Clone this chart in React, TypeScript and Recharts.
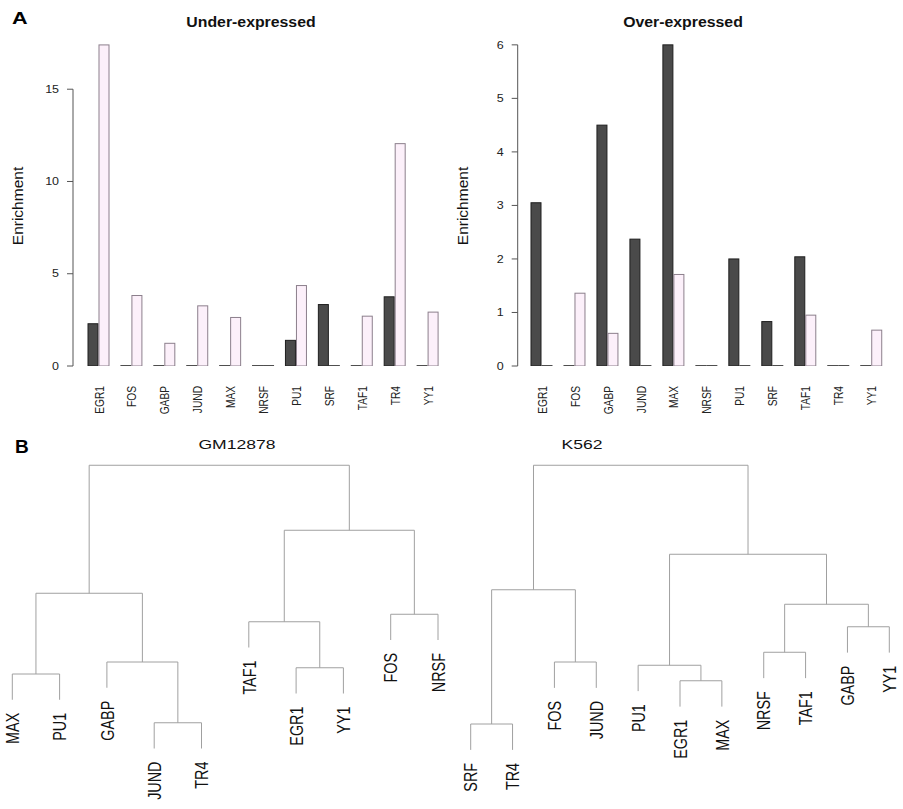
import React from 'react';
import { BarChart, Bar, XAxis, YAxis, ReferenceLine, ScatterChart, Scatter } from 'recharts';

// transcription factors, in barplot order
const factors = ['EGR1', 'FOS', 'GABP', 'JUND', 'MAX', 'NRSF', 'PU1', 'SRF', 'TAF1', 'TR4', 'YY1'];

// panel A, enrichment values
const underDark = [2.29, 0, 0, 0, 0, 0, 1.39, 3.33, 0, 3.75, 0];
const underLight = [17.4, 3.82, 1.23, 3.26, 2.63, 0, 4.36, 0, 2.7, 12.05, 2.92];
const overDark = [3.05, 0, 4.5, 2.37, 6.0, 0, 2.0, 0.83, 2.04, 0, 0];
const overLight = [0, 1.36, 0.61, 0, 1.71, 0, 0, 0, 0.95, 0, 0.67];

const underTicks = [0, 5, 10, 15];
const overTicks = [0, 1, 2, 3, 4, 5, 6];

// panel B, dendrogram leaf order and merges [child, child, height]; '#k' = k-th merge
const gmLeaves = ['MAX', 'PU1', 'GABP', 'JUND', 'TR4', 'TAF1', 'EGR1', 'YY1', 'FOS', 'NRSF'];
const gmMerges: [string, string, number][] = [
  ['JUND', 'TR4', 0.229],
  ['MAX', 'PU1', 0.424],
  ['EGR1', 'YY1', 0.449],
  ['GABP', '#1', 0.472],
  ['TAF1', '#3', 0.633],
  ['FOS', 'NRSF', 0.663],
  ['#2', '#4', 0.747],
  ['#5', '#6', 0.999],
  ['#7', '#8', 1.259],
];

const k562Leaves = ['SRF', 'TR4', 'FOS', 'JUND', 'PU1', 'EGR1', 'MAX', 'NRSF', 'TAF1', 'GABP', 'YY1'];
const k562Merges: [string, string, number][] = [
  ['SRF', 'TR4', 0.224],
  ['EGR1', 'MAX', 0.397],
  ['PU1', '#2', 0.459],
  ['FOS', 'JUND', 0.472],
  ['NRSF', 'TAF1', 0.511],
  ['GABP', 'YY1', 0.613],
  ['#5', '#6', 0.703],
  ['#1', '#4', 0.761],
  ['#3', '#7', 0.903],
  ['#8', '#9', 1.259],
];

const DARK = '#4a4a4a';
const DARK_EDGE = '#1e1e1e';
const LIGHT = '#fcf0fa';
const LIGHT_EDGE = '#8c7f8c';
const TREE = '#a0a0a0';
const FONT = '"Liberation Sans", Arial, Helvetica, sans-serif';

const BarShape = (props: any) => {
  const { x, y, width, height, fill, stroke } = props;
  if (!height || Math.abs(height) < 0.8) {
    return <line x1={x} x2={x + width} y1={y} y2={y} stroke="#222" strokeWidth={1.6} />;
  }
  return <rect x={x + 0.5} y={y} width={width - 1} height={height} fill={fill} stroke={stroke} strokeWidth={1} />;
};

const CatTick = (props: any) => {
  const { x, y, payload } = props;
  return (
    <text
      transform={`translate(${x},${y + 20}) scale(1.25,1) rotate(-90)`}
      textAnchor="end"
      dy="0.36em"
      fontSize={10.2}
      fontFamily={FONT}
      fill="#222"
    >
      {payload.value}
    </text>
  );
};

const NumTick = (props: any) => {
  const { x, y, payload } = props;
  return (
    <text
      transform={`translate(${x},${y}) scale(1.2,1)`}
      textAnchor="end"
      dy="0.36em"
      fontSize={10.4}
      fontFamily={FONT}
      fill="#222"
    >
      {payload.value}
    </text>
  );
};

interface EnrichmentProps {
  dark: number[];
  light: number[];
  ticks: number[];
  max: number;
  width: number;
  left: number;
  right: number;
  padLeft: number;
  padRight: number;
}

const EnrichmentBars = ({ dark, light, ticks, max, width, left, right, padLeft, padRight }: EnrichmentProps) => {
  const rows = factors.map((name, i) => ({ name, dark: dark[i], light: light[i] }));
  return (
    <BarChart
      width={width}
      height={430}
      data={rows}
      margin={{ top: 32, right, bottom: 0, left }}
      barGap={0}
      barSize={11}
    >
      <XAxis
        dataKey="name"
        axisLine={false}
        tickLine={false}
        tickSize={0}
        tickMargin={0}
        interval={0}
        height={64}
        padding={{ left: padLeft, right: padRight }}
        tick={<CatTick />}
      />
      <XAxis xAxisId="n" type="number" domain={[0, 1]} allowDataOverflow hide />
      <YAxis
        type="number"
        domain={[0, max]}
        allowDataOverflow
        ticks={ticks}
        width={60}
        axisLine={false}
        tickLine={{ stroke: '#555' }}
        tickSize={6}
        tickMargin={8}
        tick={<NumTick />}
      />
      <ReferenceLine
        xAxisId="n"
        segment={[{ x: 0, y: ticks[0] }, { x: 0, y: ticks[ticks.length - 1] }]}
        stroke="#555"
        ifOverflow="visible"
      />
      <Bar dataKey="dark" fill={DARK} stroke={DARK_EDGE} shape={<BarShape />} isAnimationActive={false} />
      <Bar dataKey="light" fill={LIGHT} stroke={LIGHT_EDGE} shape={<BarShape />} isAnimationActive={false} />
    </BarChart>
  );
};

function buildTree(leaves: string[], merges: [string, string, number][]) {
  const hs = merges.map((m) => m[2]);
  const hang = 0.1 * (Math.max(...hs) - Math.min(...hs));
  const pos: Record<string, { x: number; y: number }> = {};
  leaves.forEach((l, i) => (pos[l] = { x: i + 1, y: 0 }));
  const segments: { x: number; y: number }[][] = [];
  const leafEnd: Record<string, number> = {};
  merges.forEach(([a, b, h], k) => {
    [a, b].forEach((c) => {
      const p = pos[c];
      const isNode = c.startsWith('#');
      const bottom = isNode ? p.y : h - hang;
      if (!isNode) leafEnd[c] = bottom;
      segments.push([{ x: p.x, y: bottom }, { x: p.x, y: h }]);
    });
    segments.push([{ x: pos[a].x, y: h }, { x: pos[b].x, y: h }]);
    pos['#' + (k + 1)] = { x: (pos[a].x + pos[b].x) / 2, y: h };
  });
  const labels = leaves.map((name, i) => ({ x: i + 1, y: leafEnd[name], name }));
  return { segments, labels };
}

const LeafLabel = (props: any) => {
  const { cx, cy, payload } = props;
  return (
    <text
      transform={`translate(${cx},${cy + 13}) scale(1.3,1) rotate(-90)`}
      textAnchor="end"
      dy="0.36em"
      fontSize={14.4}
      fontFamily={FONT}
      fill="#111"
    >
      {payload.name}
    </text>
  );
};

interface TreeProps {
  leaves: string[];
  merges: [string, string, number][];
  width: number;
  left: number;
  right: number;
}

const Dendrogram = ({ leaves, merges, width, left, right }: TreeProps) => {
  const { segments, labels } = buildTree(leaves, merges);
  return (
    <ScatterChart width={width} height={365} margin={{ top: 15, right, bottom: 25, left }} style={{ overflow: 'visible' }}>
      <XAxis type="number" dataKey="x" domain={[1, leaves.length]} hide />
      <YAxis type="number" dataKey="y" domain={[0, 1.3]} hide />
      {segments.map((s, i) => (
        <ReferenceLine key={i} segment={s} stroke={TREE} strokeWidth={1} ifOverflow="visible" />
      ))}
      <Scatter data={labels} shape={<LeafLabel />} isAnimationActive={false} />
    </ScatterChart>
  );
};

const abs = (left: number, top: number): React.CSSProperties => ({ position: 'absolute', left, top });

const Title = ({ text, cx, top, size, bold, stretch }: { text: string; cx: number; top: number; size: number; bold?: boolean; stretch: number }) => (
  <div
    style={{
      position: 'absolute',
      left: cx,
      top,
      fontSize: size,
      lineHeight: 1,
      fontWeight: bold ? 'bold' : 'normal',
      whiteSpace: 'nowrap',
      color: '#111',
      transform: `translateX(-50%) scaleX(${stretch})`,
    }}
  >
    {text}
  </div>
);

const YLabel = ({ cx, cy }: { cx: number; cy: number }) => (
  <div
    style={{
      position: 'absolute',
      left: cx,
      top: cy,
      fontSize: 15.5,
      lineHeight: 1,
      whiteSpace: 'nowrap',
      color: '#111',
      transform: 'translate(-50%,-50%) rotate(-90deg)',
    }}
  >
    Enrichment
  </div>
);

const App = () => (
  <div style={{ position: 'absolute', left: 0, top: 0, width: 903, height: 809, background: '#fff', fontFamily: FONT, overflow: 'hidden' }}>
    <div style={{ ...abs(11.5, 10.8), fontSize: 16, fontWeight: 'bold', lineHeight: 1, transform: 'scaleX(1.35)', transformOrigin: 'left top' }}>A</div>
    <div style={{ ...abs(15, 436.6), fontSize: 19, fontWeight: 'bold', lineHeight: 1 }}>B</div>

    <Title text="Under-expressed" cx={251} top={14.9} size={14} bold stretch={1.13} />
    <Title text="Over-expressed" cx={683} top={14.9} size={14} bold stretch={1.13} />
    <YLabel cx={18} cy={206} />
    <YLabel cx={463} cy={206} />

    <div style={abs(0, 0)}>
      <EnrichmentBars dark={underDark} light={underLight} ticks={underTicks} max={18.1} width={455} left={13} right={5} padLeft={9.5} padRight={5.5} />
    </div>
    <div style={abs(450, 0)}>
      <EnrichmentBars dark={overDark} light={overLight} ticks={overTicks} max={6.24} width={453} left={7.7} right={10} padLeft={7.8} padRight={4.8} />
    </div>

    <Title text="GM12878" cx={237} top={437.6} size={13.5} stretch={1.3} />
    <Title text="K562" cx={582} top={437.6} size={13.5} stretch={1.3} />

    <div style={abs(0, 440)}>
      <Dendrogram leaves={gmLeaves} merges={gmMerges} width={450} left={12.3} right={12} />
    </div>
    <div style={abs(455, 440)}>
      <Dendrogram leaves={k562Leaves} merges={k562Merges} width={448} left={15.7} right={13.7} />
    </div>
  </div>
);

export default App;
